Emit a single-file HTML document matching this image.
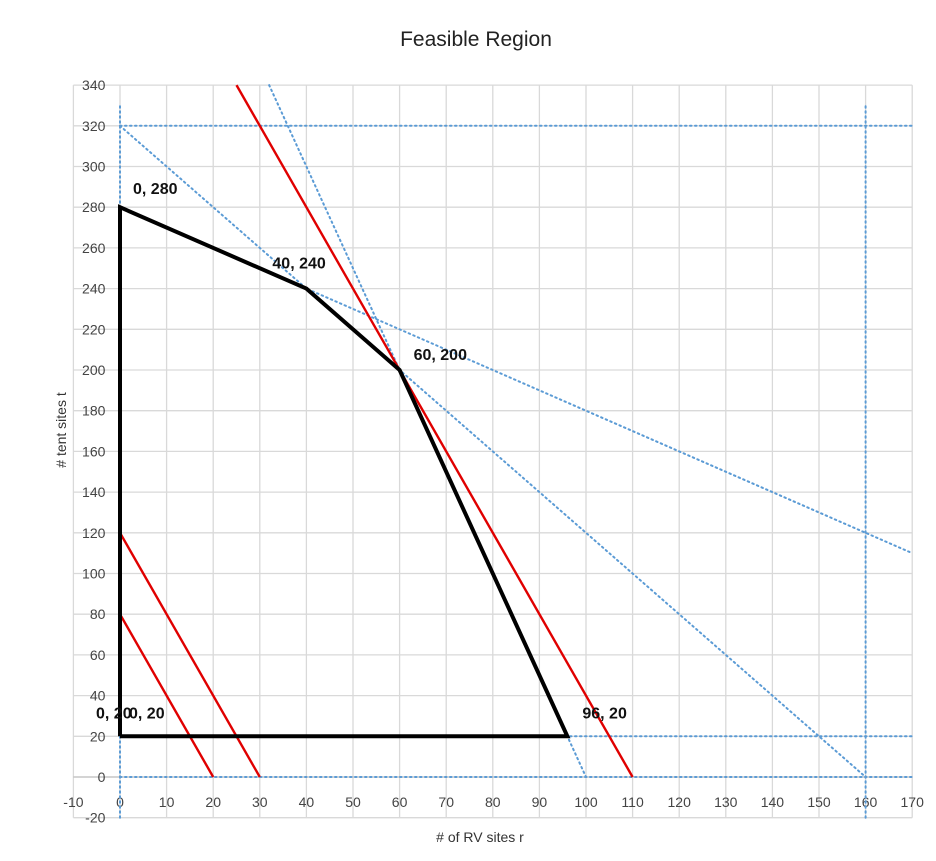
<!DOCTYPE html>
<html><head><meta charset="utf-8"><style>
body{margin:0;background:#fff;font-family:"Liberation Sans",sans-serif}
svg text{font-family:"Liberation Sans",sans-serif}
</style></head><body>
<svg id="chart" width="936" height="856" xmlns="http://www.w3.org/2000/svg">
<rect x="0" y="0" width="936" height="856" fill="#fff"/>
<text x="476" y="46" font-size="21" text-anchor="middle" fill="#222">Feasible Region</text>
<g id="grid"></g><g id="axes"></g><g id="series"></g><g id="labels"></g>
<text x="480" y="842" font-size="14" text-anchor="middle" fill="#333"># of RV sites r</text>
<text transform="translate(66,430) rotate(-90)" font-size="14" text-anchor="middle" fill="#333"># tent sites t</text>
</svg>
<script>
const xTicks=[-10,0,10,20,30,40,50,60,70,80,90,100,110,120,130,140,150,160,170];
const yTicks=[-20,0,20,40,60,80,100,120,140,160,180,200,220,240,260,280,300,320,340];
const redLines=[[[0,80],[20,0]],[[0,120],[30,0]],[[25,340],[110,0]]];
const dottedLines=[[[0,320],[160,0]],[[0,280],[170,110]],[[32,340],[100,0]],[[0,320],[170,320]],[[0,20],[170,20]],[[0,0],[170,0]],[[0,-20],[0,330]],[[160,-20],[160,330]]];
const regionPts=[[0,20],[0,280],[40,240],[60,200],[96,20],[0,20]];
const pointLabels=[["0, 280",0,280],["40, 240",40,240],["60, 200",60,200],["96, 20",96,20],["0, 20",0,20],["0, 20",0,20]];
const labelOffsets=[[13,-13],[-34,-20],[14,-10],[15,-18],[-24,-18],[9,-18]];
const X=v=>120+(v)*4.66;
const Y=v=>777-(v)*2.035;
const NS="http://www.w3.org/2000/svg";
function mk(tag,attrs,parent){const e=document.createElementNS(NS,tag);for(const k in attrs)e.setAttribute(k,attrs[k]);document.getElementById(parent).appendChild(e);return e;}
xTicks.forEach(v=>{
 const l=mk('line',{x1:X(v),x2:X(v),y1:Y(-20),y2:Y(340),stroke:'#d9d9d9','stroke-width':1.3},'grid');
 
 
 const t=mk('text',{x:X(v),y:Y(0)+30,'font-size':14,'text-anchor':'middle',fill:'#444'},'axes');t.textContent=v;
 
 
});
yTicks.forEach(v=>{
 const l=mk('line',{x1:X(-10),x2:X(170),y1:Y(v),y2:Y(v),stroke:v===0?'#bbb':'#d9d9d9','stroke-width':1.3},'grid');
 
 
 const t=mk('text',{x:X(-10)+32,y:Y(v)+5,'font-size':14,'text-anchor':'end',fill:'#444'},'axes');t.textContent=v;
 
 
});
dottedLines.forEach(s=>{
 const l=mk('line',{x1:X(s[0][0]),y1:Y(s[0][1]),x2:X(s[1][0]),y2:Y(s[1][1]),stroke:'#5b9bd5','stroke-width':2,'stroke-dasharray':'1.5 3.5','stroke-linecap':'round'},'series');
 
 
});
redLines.forEach(s=>{
 const l=mk('line',{x1:X(s[0][0]),y1:Y(s[0][1]),x2:X(s[1][0]),y2:Y(s[1][1]),stroke:'#e00000','stroke-width':2.4},'series');
 
 
});
const poly=mk('polyline',{points:regionPts.map(p=>X(p[0])+','+Y(p[1])).join(' '),fill:'none',stroke:'#000','stroke-width':4,'stroke-linejoin':'miter'},'series');


pointLabels.forEach((p,i)=>{
 const t=mk('text',{x:X(p[1])+labelOffsets[i][0],y:Y(p[2])+labelOffsets[i][1],'font-size':16,'font-weight':'bold',fill:'#111'},'labels');
 t.textContent=p[0];
 
 
});
</script>
</body></html>
